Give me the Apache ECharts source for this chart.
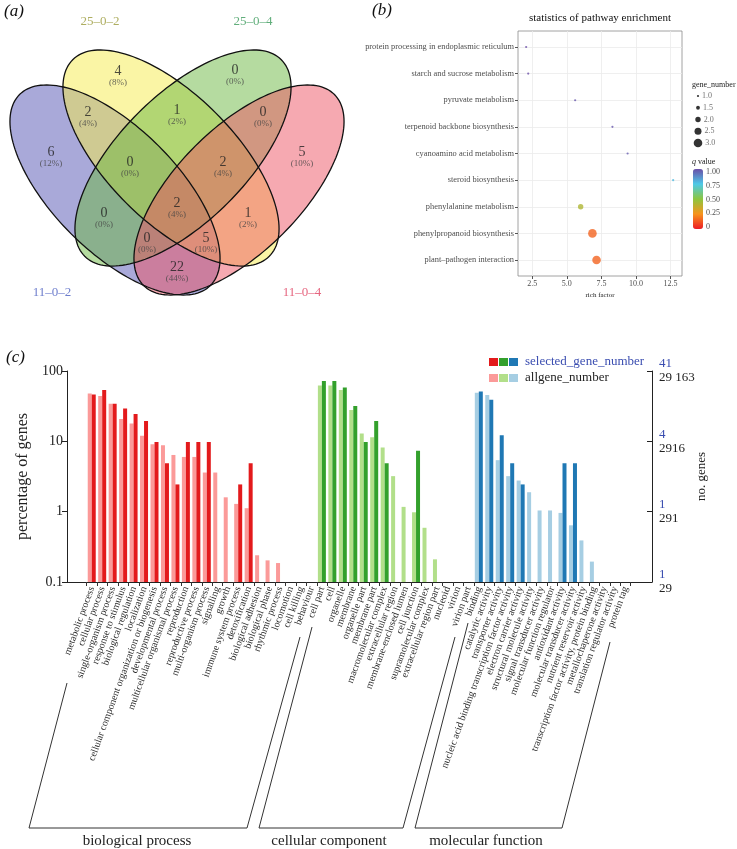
<!DOCTYPE html>
<html><head><meta charset="utf-8">
<script src="https://cdn.jsdelivr.net/npm/echarts@6/dist/echarts.min.js"></script>
<style>html,body{margin:0;padding:0;background:#fff}#c{width:737px;height:849px}</style>
</head><body><div id="c"></div>
<script>
// ---------------- (a) Venn data ----------------
const vennSets = ['11–0–2', '25–0–2', '25–0–4', '11–0–4'];
const vennRegions = ['B','Y','G','P','BY','YG','GP','BYG','YGP','BG','YP','BYGP','BGP','BYP','BP'];
const vennCounts = [6, 4, 0, 5, 2, 1, 0, 0, 2, 0, 1, 2, 0, 5, 22];

// ---------------- (b) pathway enrichment data ----------------
const pathways = ['protein processing in endoplasmic reticulum','starch and sucrose metabolism','pyruvate metabolism','terpenoid backbone biosynthesis','cyanoamino acid metabolism','steroid biosynthesis','phenylalanine metabolism','phenylpropanoid biosynthesis','plant–pathogen interaction'];
const richFactor = [2.05, 2.2, 5.6, 8.3, 9.4, 12.7, 6.0, 6.85, 7.15];
const geneNumber = [1, 1, 1, 1, 1, 1, 2, 3, 3];
const qValue = [1.0, 1.0, 0.98, 0.98, 0.97, 0.78, 0.42, 0.15, 0.15];
const richTicks = [2.5, 5, 7.5, 10, 12.5];
const sizeLegend = [1.0, 1.5, 2.0, 2.5, 3.0];

// ---------------- (c) GO classification data ----------------
const bpCats = ['metabolic process','cellular process','single-organism process','response to stimulus','biological regulation','localization','cellular component organization or biogenesis','developmental process','multicellular organismal process','reproduction','reproductive process','multi-organism process','signalling','growth','immune system process','detoxification','biological adhesion','biological phase','rhythmic process','locomotion','cell killing','behaviour'];
const bpAll = [48, 44, 34.2, 20.7, 17.9, 12.0, 9.1, 8.8, 6.4, 6.0, 6.0, 3.6, 3.6, 1.6, 1.29, 1.12, 0.24, 0.203, 0.186, 0, 0, 0];
const bpSel = [46.3, 53.7, 34.1, 29.3, 24.4, 19.5, 9.76, 4.88, 2.44, 9.76, 9.76, 9.76, 0, 0, 2.44, 4.88, 0, 0, 0, 0, 0, 0];
const ccCats = ['cell part','cell','organelle','membrane','organelle part','membrane part','macromolecular complex','extracellular region','membrane-enclosed lumen','cell junction','supramolecular complex','extracellular region part','nucleoid','virion','virion part'];
const ccAll = [62.4, 62.4, 53.6, 27.8, 12.9, 11.4, 8.2, 3.2, 1.17, 0.98, 0.59, 0.21, 0, 0, 0];
const ccSel = [72, 72, 58.5, 31.7, 9.76, 19.5, 4.88, 0, 0, 7.32, 0, 0, 0, 0, 0];
const mfCats = ['binding','catalytic activity','transporter activity','nucleic acid binding transcription factor activity','electron carrier activity','structural molecule activity','signal transducer activity','molecular function regulator','antioxidant activity','molecular transducer activity','nutrient reservoir activity','transcription factor activity, protein binding','metallochaperone activity','translation regulator activity','protein tag'];
const mfAll = [49.1, 45.5, 5.4, 3.2, 2.77, 1.89, 1.04, 1.04, 0.96, 0.64, 0.39, 0.195, 0, 0, 0];
const mfSel = [51.2, 39.0, 12.2, 4.88, 2.44, 0, 0, 0, 4.88, 4.88, 0, 0, 0, 0, 0];
const groupNames = ['biological process', 'cellular component', 'molecular function'];
const leftTicks = ['0.1', '1', '10', '100'];
const rightSelTicks = ['1', '1', '4', '41'];
const rightAllTicks = ['29', '291', '2916', '29 163'];

// ---------------- styles & layout ----------------
const FONT = 'Liberation Serif';
const vennFill = ['#5353b3', '#f5eb4b', '#6bb741', '#ed5363'];
const vennLabelColor = ['#4a5ec0', '#9a9a3a', '#3a9a5a', '#e04060'];
// ellipse geometry [cx, cy, semi-major, semi-minor, angle deg] (panel pixel space)
const vennEllipses = [[115,190,135,62,45],[171,158,139,63.5,45],[183,158,139,63.5,-45],[239,190,135,62,-45]];
const vennLabelPos = [[51,152],[118,71],[235,70],[302,152],[88,112],[177,110],[263,112],[130,162],[223,162],[104,213],[248,213],[177,203],[147,238],[206,238],[177,267]];
const vennSetPos = [[52,293],[100,22],[253,22],[302,293]];
const darkCols = ['#e31a1c', '#33a02c', '#1f78b4'];
const lightCols = ['#fb9a99', '#b2df8a', '#a6cee3'];
const qColors = ['#ed1c24', '#f7941d', '#8dc63f', '#4ec9e8', '#6a4ea8'];

const vennTotal = vennCounts.reduce((a, b) => a + b, 0);
const sizeFn = n => 2.2 + (n - 1) * 3.2;

function ellipsePts(e, api) {
  const [cx, cy, a, b, deg] = e, t = deg * Math.PI / 180, pts = [];
  for (let k = 0; k < 160; k++) {
    const s = k / 160 * 2 * Math.PI;
    const x = cx + a * Math.cos(s) * Math.cos(t) - b * Math.sin(s) * Math.sin(t);
    const y = cy + a * Math.cos(s) * Math.sin(t) + b * Math.sin(s) * Math.cos(t);
    pts.push(api.coord([x, y]));
  }
  return pts;
}

const allCats = bpCats.concat(ccCats, mfCats);
const groupOf = [].concat(bpCats.map(() => 0), ccCats.map(() => 1), mfCats.map(() => 2));
const allVals = bpAll.concat(ccAll, mfAll);
const selVals = bpSel.concat(ccSel, mfSel);

function barRender(side) {
  return function (params, api) {
    const v = api.value(1);
    if (!(v > 0)) return;
    const i = api.value(0);
    const top = api.coord([i, v]);
    const base = api.coord([i, 0.1]);
    const w = 4;
    const x = side < 0 ? top[0] - w - 0.2 : top[0] - 0.2;
    return { type: 'rect', shape: { x: x, y: top[1], width: w, height: base[1] - top[1] }, style: { fill: api.visual('color') } };
  };
}

const chart = echarts.init(document.getElementById('c'), null, { width: 737, height: 849 });

const option = {
  animation: false,
  textStyle: { fontFamily: FONT },
  grid: [
    { left: 0, top: 0, width: 370, height: 300 },                                   // 0 venn
    { left: 518, top: 31, width: 164, height: 245, show: true, borderColor: '#8a8a8a', borderWidth: 0.8, backgroundColor: '#fff' }, // 1 bubble
    { left: 693, top: 172, width: 10, height: 55 },                                 // 2 colourbar labels
    { left: 693, top: 96, width: 10, height: 47 },                                  // 3 size legend
    { left: 67, top: 371, width: 585, height: 211 },                                // 4 wide frame
    { left: 86.7, top: 371, width: 544, height: 211 }                               // 5 bars
  ],
  xAxis: [
    { gridIndex: 0, type: 'value', min: 0, max: 370, show: false },
    { gridIndex: 1, type: 'value', min: 1.46, max: 13.34, position: 'bottom', name: 'rich factor', nameLocation: 'middle', nameGap: 16,
      nameTextStyle: { fontSize: 7, color: '#222', fontFamily: FONT },
      axisLine: { show: false, onZero: false },
      axisTick: { show: true, length: 3, lineStyle: { color: '#555' }, customValues: richTicks },
      axisLabel: { customValues: richTicks, fontSize: 8, color: '#4d4d4d', margin: 4, formatter: v => v.toFixed(1) },
      splitLine: { show: true, lineStyle: { color: '#ebebeb', width: 0.8 } } },
    { gridIndex: 2, type: 'value', min: 0, max: 1, show: false },
    { gridIndex: 3, type: 'value', min: 0, max: 1, show: false },
    { gridIndex: 4, type: 'value', min: 0, max: 1, axisLine: { show: true, onZero: false, lineStyle: { color: '#222', width: 1 } },
      axisTick: { show: false }, axisLabel: { show: false }, splitLine: { show: false } },
    { gridIndex: 5, type: 'category', data: allCats,
      axisLine: { show: false, onZero: false },
      axisTick: { show: true, length: 4, lineStyle: { color: '#333' } },
      axisLabel: { interval: 0, rotate: 70, fontSize: 10, color: '#2a2a2a', margin: 5 },
      splitLine: { show: false } }
  ],
  yAxis: [
    { gridIndex: 0, type: 'value', min: 0, max: 300, inverse: true, show: false },
    { gridIndex: 1, type: 'value', min: -0.6, max: 8.6, inverse: true, position: 'left',
      axisLine: { show: false, onZero: false },
      axisTick: { show: true, length: 3, lineStyle: { color: '#555' }, customValues: pathways.map((p, i) => i) },
      axisLabel: { customValues: pathways.map((p, i) => i), fontSize: 8.4, color: '#4d4d4d', margin: 4, formatter: v => pathways[Math.round(v)] },
      splitLine: { show: true, lineStyle: { color: '#ebebeb', width: 0.8 } } },
    { gridIndex: 2, type: 'value', min: 0, max: 1, interval: 0.25, position: 'right',
      axisLine: { show: false }, axisTick: { show: false }, splitLine: { show: false },
      axisLabel: { fontSize: 8, color: '#4d4d4d', margin: 3, formatter: v => v === 0 ? '0' : v.toFixed(2) } },
    { gridIndex: 3, type: 'value', min: 0, max: 4, inverse: true, show: false },
    { gridIndex: 4, type: 'log', logBase: 10, min: 0.1, max: 100, position: 'left',
      name: 'percentage of genes', nameLocation: 'middle', nameGap: 36, nameRotate: 90,
      nameTextStyle: { fontSize: 16, color: '#222', fontFamily: FONT },
      axisLine: { show: true, onZero: false, lineStyle: { color: '#222', width: 1 } },
      axisTick: { show: true, length: 5, lineStyle: { color: '#222' } },
      axisLabel: { fontSize: 14, color: '#222', margin: 4, formatter: v => leftTicks[Math.round(Math.log10(v)) + 1] },
      splitLine: { show: false }, minorTick: { show: false } },
    { gridIndex: 4, type: 'log', logBase: 10, min: 0.1, max: 100, position: 'right',
      name: 'no. genes', nameLocation: 'middle', nameGap: 43, nameRotate: 90, nameMoveOverlap: false,
      nameTextStyle: { fontSize: 13, color: '#222', fontFamily: FONT },
      axisLine: { show: true, onZero: false, lineStyle: { color: '#222', width: 1 } },
      axisTick: { show: true, inside: true, length: 5, lineStyle: { color: '#222' } },
      axisLabel: { margin: 7, formatter: v => { const k = Math.round(Math.log10(v)) + 1; return '{s|' + rightSelTicks[k] + '}\n{a|' + rightAllTicks[k] + '}'; },
        rich: { s: { fontSize: 13, color: '#3a4db0', fontFamily: FONT, lineHeight: 14 }, a: { fontSize: 13, color: '#222', fontFamily: FONT, lineHeight: 14 } } },
      splitLine: { show: false } },
    { gridIndex: 5, type: 'log', logBase: 10, min: 0.1, max: 100, show: false }
  ],
  visualMap: [{
    type: 'continuous', seriesIndex: 3, dimension: 3, min: 0, max: 1,
    inRange: { color: qColors }, left: 693, top: 169, itemWidth: 10, itemHeight: 60,
    calculable: false, padding: 0, text: null, hoverLink: false, show: true
  }],
  series: [
    // 0 venn fills
    { type: 'custom', xAxisIndex: 0, yAxisIndex: 0, silent: true, z: 1,
      data: vennEllipses.map((e, i) => [i, 0]),
      renderItem: (params, api) => ({ type: 'polygon', shape: { points: ellipsePts(vennEllipses[params.dataIndex], api) },
        style: { fill: vennFill[params.dataIndex], opacity: 0.5 } }) },
    // 1 venn outlines
    { type: 'custom', xAxisIndex: 0, yAxisIndex: 0, silent: true, z: 2,
      data: vennEllipses.map((e, i) => [i, 0]),
      renderItem: (params, api) => ({ type: 'polygon', shape: { points: ellipsePts(vennEllipses[params.dataIndex], api) },
        style: { fill: 'none', stroke: '#111', lineWidth: 1.3 } }) },
    // 2 venn labels (regions + set names)
    { type: 'scatter', xAxisIndex: 0, yAxisIndex: 0, symbolSize: 0, silent: true, z: 3,
      data: vennCounts.map((c, i) => ({ value: [vennLabelPos[i][0], vennLabelPos[i][1] + 5.5, c],
        label: { formatter: '{n|' + c + '}\n{p|(' + Math.round(c / vennTotal * 100) + '%)}' } }))
        .concat(vennSets.map((s, i) => ({ value: [vennSetPos[i][0], vennSetPos[i][1], 0],
          label: { formatter: '{t|' + s + '}', rich: { t: { fontSize: 13, color: vennLabelColor[i], fontFamily: FONT } } } }))),
      label: { show: true, position: 'inside',
        rich: { n: { fontSize: 14, color: '#222', fontFamily: FONT, lineHeight: 12 }, p: { fontSize: 9, color: '#444', fontFamily: FONT, lineHeight: 11 } } } },
    // 3 bubble chart
    { type: 'scatter', xAxisIndex: 1, yAxisIndex: 1, silent: true,
      data: pathways.map((p, i) => [richFactor[i], i, geneNumber[i], qValue[i]]),
      symbolSize: d => sizeFn(d[2]) },
    // 4 size legend
    { type: 'scatter', xAxisIndex: 3, yAxisIndex: 3, silent: true,
      data: sizeLegend.map((s, i) => [0.5, i, s]),
      symbolSize: d => sizeFn(d[2]), itemStyle: { color: '#000' },
      label: { show: true, position: 'right', distance: 3, fontSize: 8, color: '#4d4d4d', fontFamily: FONT, formatter: p => p.value[2].toFixed(1) } },
    // 5 all genes (light) bars
    { type: 'custom', xAxisIndex: 5, yAxisIndex: 6, silent: true,
      data: allVals.map((v, i) => ({ value: [i, v], itemStyle: { color: lightCols[groupOf[i]] } })),
      renderItem: barRender(-1) },
    // 6 selected genes (dark) bars
    { type: 'custom', xAxisIndex: 5, yAxisIndex: 6, silent: true,
      data: selVals.map((v, i) => ({ value: [i, v], itemStyle: { color: darkCols[groupOf[i]] } })),
      renderItem: barRender(1) }
  ],
  graphic: [
    { type: 'text', x: 4, y: 3, style: { text: '(a)', font: 'italic 17px "Liberation Serif"', fill: '#111' } },
    { type: 'text', x: 372, y: 2, style: { text: '(b)', font: 'italic 17px "Liberation Serif"', fill: '#111' } },
    { type: 'text', x: 6, y: 349, style: { text: '(c)', font: 'italic 17px "Liberation Serif"', fill: '#111' } },
    { type: 'text', x: 600, y: 18, style: { text: 'statistics of pathway enrichment', font: '11px "Liberation Serif"', fill: '#111', align: 'center', verticalAlign: 'middle' } },
    { type: 'text', x: 692, y: 85, style: { text: 'gene_number', font: '8px "Liberation Serif"', fill: '#222', verticalAlign: 'middle' } },
    { type: 'text', x: 692, y: 162, style: { text: '{i|q} value', font: '8px "Liberation Serif"', fill: '#222', verticalAlign: 'middle',
      rich: { i: { fontStyle: 'italic', fontSize: 8, fontFamily: FONT } } } },
    // legend of (c)
    ...darkCols.map((c, i) => ({ type: 'rect', shape: { x: 489 + i * 10, y: 358, width: 9, height: 8 }, style: { fill: c } })),
    ...lightCols.map((c, i) => ({ type: 'rect', shape: { x: 489 + i * 10, y: 374, width: 9, height: 8 }, style: { fill: c } })),
    { type: 'text', x: 525, y: 362, style: { text: 'selected_gene_number', font: '13px "Liberation Serif"', fill: '#3a4db0', verticalAlign: 'middle' } },
    { type: 'text', x: 525, y: 378, style: { text: 'allgene_number', font: '13px "Liberation Serif"', fill: '#222', verticalAlign: 'middle' } },
    // group brackets
    { type: 'polyline', shape: { points: [[67,683],[29,828],[247,828],[300,637]] }, style: { stroke: '#333', lineWidth: 1, fill: null } },
    { type: 'polyline', shape: { points: [[312,627],[259,828],[403,828],[455,637]] }, style: { stroke: '#333', lineWidth: 1, fill: null } },
    { type: 'polyline', shape: { points: [[468,623],[415,828],[562,828],[610,642]] }, style: { stroke: '#333', lineWidth: 1, fill: null } },
    { type: 'text', x: 137, y: 841, style: { text: groupNames[0], font: '15px "Liberation Serif"', fill: '#222', align: 'center', verticalAlign: 'middle' } },
    { type: 'text', x: 329, y: 841, style: { text: groupNames[1], font: '15px "Liberation Serif"', fill: '#222', align: 'center', verticalAlign: 'middle' } },
    { type: 'text', x: 486, y: 841, style: { text: groupNames[2], font: '15px "Liberation Serif"', fill: '#222', align: 'center', verticalAlign: 'middle' } }
  ]
};
chart.setOption(option);
</script>
</body></html>
